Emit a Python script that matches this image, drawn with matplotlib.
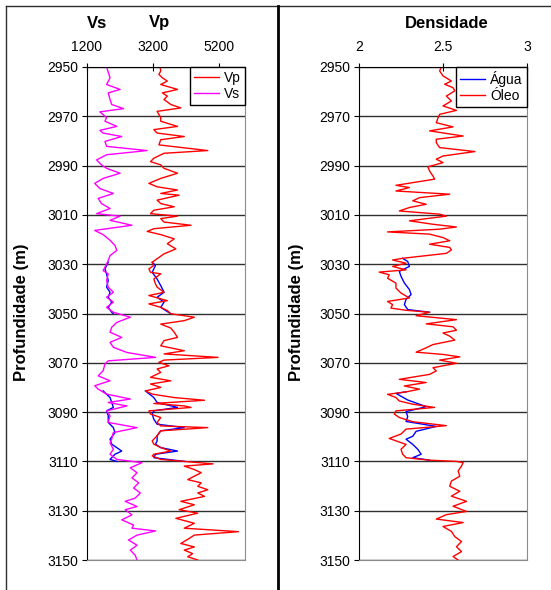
import numpy as np
import matplotlib
matplotlib.use("Agg")
import matplotlib.pyplot as plt
from matplotlib.lines import Line2D

plt.rcParams["font.family"] = ["Liberation Sans", "DejaVu Sans"]

nan = np.nan

# Vp (oil) log
vp_depth = [2950.0, 2951.6, 2953.0, 2954.4, 2955.7, 2957.1, 2959.1, 2960.5, 2961.8, 2963.2,
            2965.2, 2966.6, 2968.0, 2969.3, 2970.5, 2972.0, 2974.1, 2975.4, 2976.8, 2978.2,
            2979.5, 2981.6, 2983.9, 2985.0, 2987.0, 2988.4, 2989.7, 2991.1, 2993.1, 2995.2,
            2997.2, 2998.6, 2999.9, 3001.3, 3002.0, 3004.0, 3005.4, 3006.7, 3008.1, 3009.5,
            3010.5, 3011.5, 3012.9, 3014.2, 3015.6, 3016.7, 3018.0, 3019.7, 3021.7, 3023.8,
            3025.8, 3027.8, 3029.2, 3030.5, 3031.9, 3033.3, 3033.9, 3036.0, 3038.0, 3039.3,
            3041.4, 3042.7, 3044.8, 3046.1, 3047.5, 3048.8, 3050.1, 3051.5, 3052.9, 3054.3,
            3055.9, 3057.6, 3059.7, 3061.0, 3063.1, 3065.1, 3066.4, 3067.8, 3068.9, 3069.8,
            3071.2, 3072.5, 3073.9, 3075.9, 3077.3, 3078.6, 3080.0, 3081.4, 3082.7, 3084.1,
            3085.2, 3086.5, 3087.5, 3088.1, 3089.5, 3090.8, 3092.2, 3094.2, 3095.6, 3096.3,
            3097.6, 3099.6, 3101.7, 3103.0, 3104.4, 3105.8, 3107.1, 3107.8, 3109.2, 3110.0,
            3111.0, 3111.9, 3113.3, 3114.6, 3116.0, 3117.4, 3118.7, 3120.1, 3121.5, 3122.8,
            3124.2, 3126.2, 3127.6, 3129.6, 3131.0, 3133.1, 3135.1, 3137.1, 3138.5, 3139.9,
            3141.2, 3143.3, 3144.7, 3146.0, 3147.4, 3148.7, 3150.0]
vp = [3420, 3440, 3385, 3490, 3640, 3440, 3950, 3490, 3640, 3540,
      3745, 4050, 3330, 3385, 3440, 3440, 3950, 3230, 3330, 4155,
      3440, 3385, 4870, 3540, 3230, 3130, 3440, 3540, 3950, 3440,
      3080, 3330, 3950, 3440, 4000, 3330, 3440, 3850, 3230, 3130,
      3950, 3440, 3540, 4360, 3230, 3030, 3440, 3850, 3640, 3900,
      3540, 3330, 3180, 3230, 3080, 3130, 3440, 3230, 3280, 3330,
      3540, 3080, 3640, 3080, 3440, 3640, 3745, 4460, 4155, 3440,
      3745, 3850, 3950, 3540, 3440, 4155, 3540, 5180, 3540, 3385,
      3690, 3330, 3440, 3130, 3745, 3130, 3440, 2975, 3180, 3850,
      4770, 3230, 4155, 4360, 3080, 3130, 3440, 3330, 3440, 4870,
      3440, 3330, 3180, 3230, 3440, 3745, 3230, 3180, 3440, 4155,
      5030, 4155, 4460, 4670, 4460, 4260, 4670, 4565, 4870, 4565,
      4770, 4050, 4460, 4000, 4565, 3900, 4460, 4155, 5800, 4460,
      4310, 4050, 4460, 4155, 4410, 4260, 4565]

# Vs (oil) log
vs_depth = [2950.0, 2954.4, 2957.1, 2959.1, 2960.5, 2963.2, 2965.2, 2966.9, 2968.2, 2970.5,
            2972.0, 2974.1, 2975.7, 2976.8, 2978.2, 2980.2, 2982.2, 2983.9, 2985.6, 2987.7,
            2989.7, 2991.1, 2993.1, 2995.2, 2997.2, 2999.3, 3001.3, 3003.3, 3005.4, 3007.4,
            3009.5, 3010.5, 3012.2, 3014.2, 3016.3, 3018.0, 3020.3, 3022.4, 3024.4, 3026.5,
            3028.5, 3030.0, 3032.6, 3033.9, 3036.6, 3039.3, 3041.4, 3043.4, 3045.4, 3047.5,
            3049.5, 3051.5, 3053.6, 3055.6, 3057.6, 3059.7, 3061.7, 3063.7, 3065.8, 3067.8,
            3069.2, 3070.5, 3073.2, 3075.3, 3077.3, 3079.3, 3080.7, 3082.7, 3084.7, 3086.1,
            3087.5, 3089.5, 3091.5, 3094.2, 3096.3, 3098.3, 3101.0, 3102.4, 3105.1, 3107.1,
            3109.2, 3110.5, 3112.6, 3114.6, 3116.7, 3118.7, 3120.8, 3122.8, 3124.9, 3126.2,
            3128.3, 3129.6, 3131.7, 3133.7, 3135.8, 3137.1, 3138.2, 3139.9, 3141.9, 3144.0,
            3146.0, 3148.1, 3150.0]
vs = [1795, 1900, 1795, 2205, 1845, 1900, 1950, 2310, 1590, 1795,
      1745, 2105, 1590, 1690, 2255, 1745, 1795, 3025, 1795, 1490,
      1640, 1795, 2205, 1690, 1435, 1590, 2000, 1540, 1640, 1900,
      1490, 2205, 1900, 2565, 1435, 1690, 1900, 2050, 2105, 1900,
      1845, 1795, 1690, 1845, 1795, 1845, 2000, 1795, 2000, 1795,
      2000, 2515, 2105, 1950, 1900, 2255, 1900, 2000, 2410, 3285,
      1845, 1745, 1690, 1540, 1900, 1435, 1540, 1795, 2515, 1845,
      2410, 1795, 1900, 1845, 2720, 2000, 1950, 1900, 2000, 1900,
      2105, 2870, 2515, 2720, 2565, 2770, 2615, 2820, 2665, 2360,
      2720, 2360, 2565, 2255, 2615, 2565, 3285, 2720, 2460, 2720,
      2515, 2665, 2720]

# water-substituted Vp / Vs (two reservoir intervals, NaN = gap)
vp_w_depth = [3029.2, 3030.5, 3033.3, 3036.0, 3038.7, 3041.4, 3043.4, 3045.4, 3047.5, 3048.8, 3050.1, nan,
              3081.4, 3084.1, 3086.1, 3088.1, 3089.5, 3090.8, 3092.9, 3094.9, 3096.3, 3097.6, 3099.6,
              3101.7, 3103.0, 3104.4, 3105.8, 3107.1, 3108.5, 3110.0]
vp_w = [3180, 3280, 3180, 3330, 3440, 3540, 3330, 3540, 3440, 3590, 3745, nan,
        2975, 3230, 3330, 3950, 3230, 3180, 3230, 3330, 4155, 3440, 3330,
        3330, 3280, 3440, 3950, 3280, 3230, 4155]
vs_w_depth = [3029.2, 3031.9, 3034.0, 3036.6, 3039.3, 3041.4, 3043.4, 3045.4, 3047.5, 3049.5, 3050.1, nan,
              3081.4, 3084.1, 3086.1, 3088.1, 3089.5, 3091.5, 3094.2, 3096.3, 3098.3, 3101.0,
              3103.0, 3105.8, 3107.1, 3109.2, 3110.0]
vs_w = [1845, 1745, 1795, 1845, 1795, 1900, 1845, 1950, 1845, 1950, 2000, nan,
        1690, 1900, 1950, 2000, 1795, 1845, 1845, 2000, 2050, 1900,
        1950, 2255, 2050, 1900, 2105]

# density, oil case
rho_depth = [2950.0, 2951.6, 2953.6, 2955.7, 2957.0, 2958.4, 2959.7, 2961.8, 2963.8, 2965.8,
             2967.6, 2969.2, 2970.7, 2972.6, 2974.3, 2975.9, 2978.0, 2979.3, 2980.7, 2982.7,
             2984.3, 2986.1, 2987.4, 2988.8, 2990.5, 2992.2, 2994.2, 2995.5, 2996.9, 2998.0,
             2998.9, 3000.3, 3001.6, 3003.0, 3004.3, 3005.7, 3007.0, 3008.4, 3009.7, 3010.5,
             3012.4, 3013.8, 3014.9, 3015.8, 3016.9, 3017.8, 3019.2, 3020.5, 3021.9, 3023.2,
             3024.2, 3025.6, 3027.6, 3028.3, 3029.6, 3030.9, 3032.3, 3033.2, 3034.3, 3035.7,
             3037.7, 3039.7, 3041.7, 3043.7, 3045.1, 3046.4, 3047.8, 3048.7, 3049.5, 3050.9,
             3052.5, 3054.2, 3055.4, 3056.8, 3057.9, 3059.2, 3060.8, 3062.6, 3063.9, 3065.7,
             3066.6, 3067.6, 3068.9, 3070.2, 3072.0, 3073.3, 3074.7, 3076.7, 3078.0, 3079.4,
             3080.7, 3081.8, 3082.8, 3084.1, 3085.5, 3086.8, 3088.1, 3089.5, 3090.8, 3092.2,
             3093.9, 3095.5, 3096.9, 3098.9, 3100.7, 3103.1, 3105.1, 3107.1, 3108.5, 3109.5,
             3110.0, 3110.5, 3111.9, 3113.9, 3116.0, 3118.0, 3120.1, 3122.1, 3124.1, 3126.2,
             3128.2, 3130.3, 3131.6, 3133.4, 3134.8, 3136.4, 3138.4, 3140.5, 3142.5, 3144.6,
             3146.6, 3148.6, 3150.0]
rho = [2.49, 2.48, 2.50, 2.55, 2.51, 2.56, 2.57, 2.52, 2.55, 2.50,
       2.58, 2.48, 2.47, 2.46, 2.56, 2.42, 2.62, 2.46, 2.46, 2.48,
       2.69, 2.50, 2.46, 2.50, 2.41, 2.42, 2.44, 2.45, 2.32, 2.22,
       2.30, 2.22, 2.54, 2.36, 2.32, 2.40, 2.30, 2.24, 2.48, 2.52,
       2.30, 2.44, 2.58, 2.48, 2.17, 2.42, 2.50, 2.54, 2.42, 2.54,
       2.55, 2.52, 2.26, 2.20, 2.28, 2.20, 2.28, 2.12, 2.18, 2.17,
       2.22, 2.22, 2.25, 2.30, 2.17, 2.20, 2.19, 2.28, 2.42, 2.34,
       2.58, 2.40, 2.56, 2.58, 2.50, 2.54, 2.57, 2.44, 2.40, 2.34,
       2.50, 2.60, 2.48, 2.58, 2.44, 2.46, 2.42, 2.24, 2.40, 2.27,
       2.36, 2.28, 2.17, 2.22, 2.24, 2.32, 2.45, 2.22, 2.21, 2.24,
       2.32, 2.52, 2.28, 2.25, 2.18, 2.28, 2.25, 2.26, 2.28, 2.42,
       2.58, 2.62, 2.61, 2.59, 2.60, 2.55, 2.54, 2.60, 2.55, 2.64,
       2.56, 2.64, 2.52, 2.46, 2.62, 2.50, 2.55, 2.57, 2.61, 2.58,
       2.61, 2.56, 2.59]

# density, water case
rho_w_depth = [3027.6, 3028.9, 3030.9, 3032.9, 3034.9, 3037.6, 3040.3, 3042.3, 3044.3, 3046.4, 3048.4, 3049.5, nan,
               3081.8, 3082.4, 3085.1, 3087.8, 3089.8, 3091.8, 3093.8, 3095.8, 3097.8, 3099.8,
               3101.0, 3103.1, 3105.1, 3107.1, 3108.5, 3109.5]
rho_w = [2.26, 2.29, 2.30, 2.24, 2.25, 2.27, 2.30, 2.31, 2.28, 2.27, 2.29, 2.42, nan,
         2.28, 2.22, 2.29, 2.40, 2.28, 2.29, 2.28, 2.46, 2.34, 2.32,
         2.28, 2.32, 2.35, 2.37, 2.32, 2.42]

depth_ticks = list(range(2950, 3151, 20))
vel_ticks = [1200, 3200, 5200]
rho_ticks = [2, 2.5, 3]

W, H = 551, 590
fig = plt.figure(figsize=(W / 100, H / 100), dpi=100)


def style_track(ax, xlim, xticks, xlabels):
    ax.set_xlim(*xlim)
    ax.set_ylim(3150, 2950)
    ax.set_yticks(depth_ticks)
    ax.set_xticks(xticks)
    ax.set_xticklabels(xlabels)
    ax.xaxis.tick_top()
    ax.tick_params(axis="x", direction="inout", length=6, pad=6.5, labelsize=10)
    ax.tick_params(axis="y", direction="out", length=3.6, pad=2.5, labelsize=10)
    ax.yaxis.grid(True, color="#303030", lw=1)
    ax.set_axisbelow(True)
    for side in ("top", "left"):
        ax.spines[side].set_color("black")
    for side in ("right", "bottom"):
        ax.spines[side].set_color("#8c8c8c")


def add_legend(ax):
    leg = ax.legend(loc="upper right", bbox_to_anchor=(1, 1), borderaxespad=0, fontsize=10,
                    fancybox=False, framealpha=1, edgecolor="black", handlelength=1.8,
                    handletextpad=0.35, borderpad=0.3, labelspacing=0.15)
    leg.get_frame().set_linewidth(1)


# velocity track
ax1 = fig.add_axes([87 / W, 1 - 560 / H, 158 / W, 493 / H])
ax1.plot(vp_w, vp_w_depth, color="#0000ff", lw=1)
ax1.plot(vs_w, vs_w_depth, color="#0000ff", lw=1)
ax1.plot(vp, vp_depth, color="#ff0000", lw=1, label="Vp")
ax1.plot(vs, vs_depth, color="#ff00ff", lw=1, label="Vs")
style_track(ax1, (1200, 6000), vel_ticks, ["1200", "3200", "5200"])
add_legend(ax1)

# density track
ax2 = fig.add_axes([359 / W, 1 - 560 / H, 168 / W, 493 / H])
ax2.plot(rho_w, rho_w_depth, color="#0000ff", lw=1, label="Água")
ax2.plot(rho, rho_depth, color="#ff0000", lw=1, label="Óleo")
style_track(ax2, (2, 3), rho_ticks, ["2", "2.5", "3"])
add_legend(ax2)

# titles and depth labels
fig.text(97 / W, 1 - 23 / H, "Vs", ha="center", va="center", fontsize=12, fontweight="bold")
fig.text(160 / W, 1 - 23 / H, "Vp", ha="center", va="center", fontsize=12, fontweight="bold")
fig.text(447 / W, 1 - 23 / H, "Densidade", ha="center", va="center", fontsize=12, fontweight="bold")
fig.text(22 / W, 1 - 312 / H, "Profundidade (m)", rotation=90, ha="center", va="center",
         fontsize=12, fontweight="bold")
fig.text(297 / W, 1 - 312 / H, "Profundidade (m)", rotation=90, ha="center", va="center",
         fontsize=12, fontweight="bold")

# frame lines around / between the two charts
top = 1 - 6 / H
fig.add_artist(Line2D([6 / W, 6 / W], [0, top], transform=fig.transFigure, color="#303030", lw=1))
fig.add_artist(Line2D([6 / W, 1], [top, top], transform=fig.transFigure, color="#303030", lw=1))
fig.add_artist(Line2D([278 / W, 278 / W], [0, top], transform=fig.transFigure, color="black", lw=2))

fig.savefig("out.png", dpi=100)
